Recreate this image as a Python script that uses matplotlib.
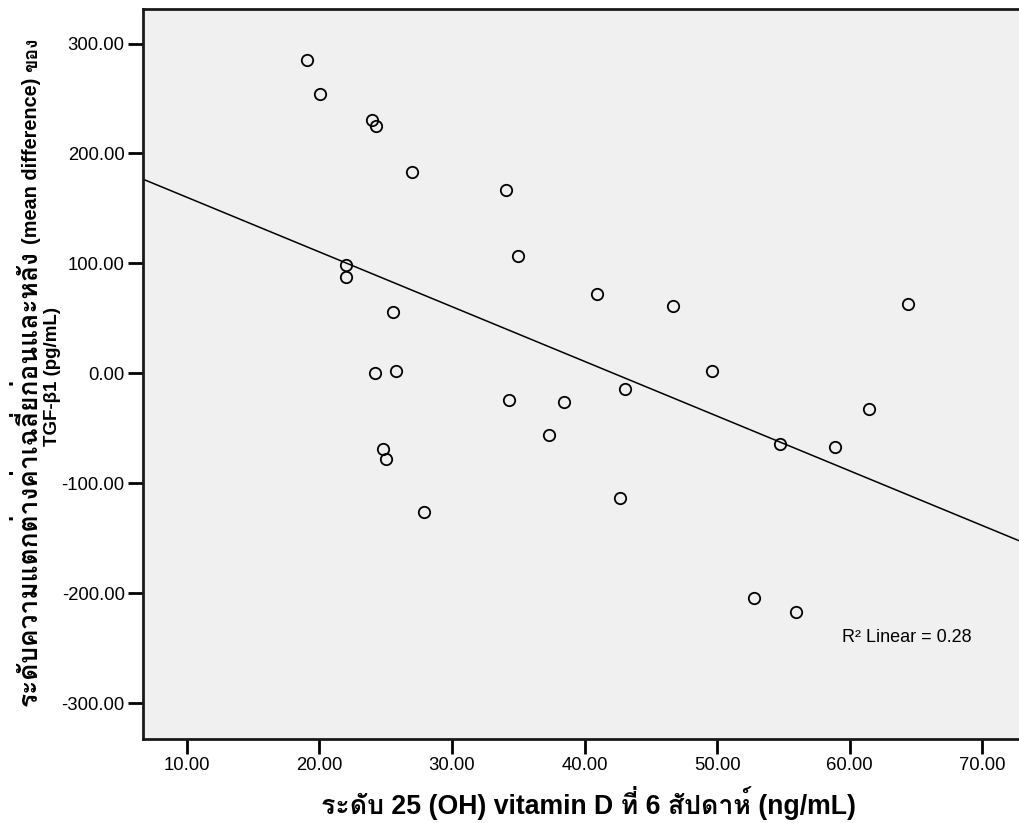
# Scatter of TGF-beta1 mean difference vs 25(OH) vitamin D at week 6, with linear fit

import numpy as np
import matplotlib
matplotlib.use("Agg")
import matplotlib.pyplot as plt
from matplotlib import font_manager
from matplotlib.ft2font import FT2Font

# data
vit_d = [19.09, 20.08, 24.00, 24.30, 26.99, 34.08, 34.96, 21.99, 21.99, 25.58,
         40.97, 46.65, 64.37, 24.20, 25.76, 49.59, 34.28, 38.48, 43.07, 37.30,
         61.46, 24.80, 25.01, 54.77, 58.87, 27.87, 42.68, 52.78, 55.97]
tgf_diff = [285.3, 254.0, 230.7, 224.8, 183.6, 167.2, 106.7, 98.1, 87.4, 55.6,
            72.0, 61.4, 63.2, 0.0, 1.9, 2.5, -24.5, -25.7, -14.1, -55.7,
            -32.7, -68.7, -78.2, -64.1, -67.2, -126.0, -113.6, -204.0, -217.0]
x_ticks = [10, 20, 30, 40, 50, 60, 70]
y_ticks = [-300, -200, -100, 0, 100, 200, 300]
r2_text = "R\u00b2 Linear = 0.28"
x_label = "ระดับ 25 (OH) vitamin D ที่ 6 สัปดาห์ (ng/mL)"
y_label1_thai = "ระดับความแตกต่างค่าเฉลี่ยก่อนและหลัง"
y_label1_mid = "(mean difference)"
y_label1_end = "ของ"
y_label2 = "TGF-β1 (pg/mL)"


def find_thai_font():
	# look for any installed font that has Thai glyphs
	for f in font_manager.fontManager.ttflist:
		try:
			cmap = FT2Font(f.fname).get_charmap()
		except Exception:
			continue
		if 0x0E14 in cmap and 0x0E31 in cmap:
			return f.name
	return None


thai = find_thai_font()
fams = ["Liberation Sans"] + ([thai] if thai else []) + ["DejaVu Sans"]
plt.rcParams["font.family"] = fams

W, H = 1020, 823
fig = plt.figure(figsize=(W/100, H/100), dpi=100)
ax = fig.add_axes([0.1399, 0.1017, 0.8601, 0.8874])
ax.set_facecolor("#f0f0f0")

x = np.array(vit_d)
y = np.array(tgf_diff)
xmin, xmax = 6.68, 72.84
slope, icpt = np.polyfit(x, y, 1)
xx = np.array([xmin, xmax])
ax.plot(xx, slope*xx + icpt, color="black", lw=1.1, zorder=2)
ax.plot(x, y, "o", ms=8.2, mfc="none", mec="black", mew=1.3, zorder=3)

ax.set_xlim(xmin, xmax)
ax.set_ylim(-333, 331.5)
ax.set_xticks(x_ticks)
ax.set_xticklabels([f"{v:.2f}" for v in x_ticks])
ax.set_yticks(y_ticks)
ax.set_yticklabels([f"{v:.2f}" for v in y_ticks])
ax.tick_params(length=11, width=2, labelsize=13.3, pad=2)
for side in ["left", "bottom", "top"]:
	ax.spines[side].set_linewidth(2)
	ax.spines[side].set_color("#1a1a1a")
ax.spines["right"].set_visible(False)

ax.text(59.4, -240.5, r2_text, fontsize=13, va="center", ha="left")

fig.text(589/W, 1 - 803/H, x_label, fontsize=19.2, fontweight="bold", ha="center", va="center")


def ylab(text, px_x, size):
	# rotated label piece with its baseline at px_x (pixels from left)
	return fig.text(px_x/W, 0.5, text, fontsize=size, fontweight="bold",
		rotation=90, rotation_mode="anchor", ha="left", va="baseline")


# first line of the y label is built from pieces so the Thai part can be larger
pieces = [ylab(y_label1_thai, 37, 19), ylab(y_label1_mid, 37, 14.3), ylab(y_label1_end, 37, 14)]
ylab2 = fig.text(57/W, 1 - 377/H, y_label2, fontsize=13.5, fontweight="bold",
	rotation=90, rotation_mode="anchor", ha="center", va="baseline")

fig.canvas.draw()
gap = 6
lens = [p.get_window_extent().height for p in pieces]
total = sum(lens) + gap*(len(pieces) - 1)
start = (H - 372) - total/2  # pixels from bottom
for p, L in zip(pieces, lens):
	p.set_y(start/H)
	start += L + gap

fig.savefig("out.png", dpi=100)
print("[out] saved out.png, thai font:", thai)
